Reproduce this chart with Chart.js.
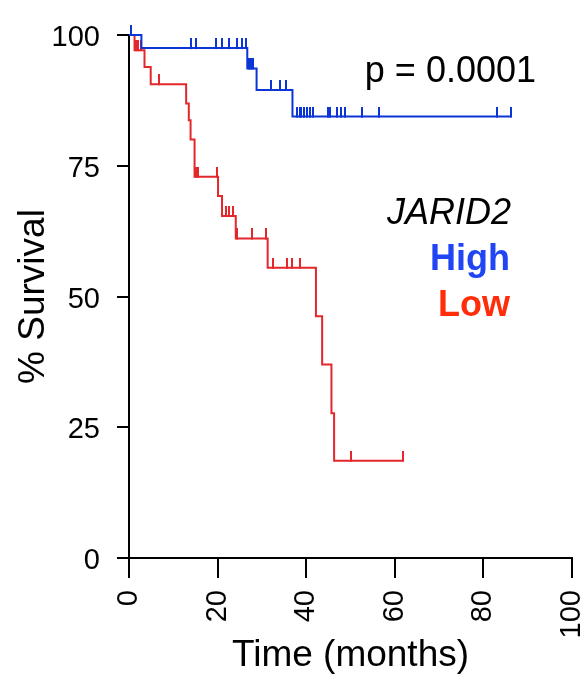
<!DOCTYPE html>
<html>
<head>
<meta charset="utf-8">
<script src="https://cdn.jsdelivr.net/npm/chart.js@4/dist/chart.umd.min.js"></script>
<style>
html,body{margin:0;padding:0;background:#fff;}
#wrap{position:relative;width:587px;height:678px;}
</style>
</head>
<body>
<div id="wrap"><canvas id="c" width="587" height="678"></canvas></div>
<script>
// ---- data ----
const highEventTimes = [0, 2.8, 26.7, 28.8, 36.9];
const highEventSurv  = [100, 97.5, 93.6, 89.5, 84.4];
const highCensorTimes = [0.5, 14.1, 15.2, 19.7, 20.9, 22.6, 24.3, 25.4, 26.4, 27.0, 27.5, 28.0,
  32.0, 34.0, 35.4, 38.0, 38.5, 38.9, 39.4, 40.1, 40.8, 41.6, 45.0, 45.4, 47.0, 47.8, 48.8,
  52.5, 56.5, 83.1, 86.2];
const lowEventTimes = [0, 1.25, 3.5, 4.9, 12.9, 13.5, 13.9, 14.8, 20.1, 21.0, 24.1, 31.3, 42.2, 43.6, 45.7, 46.3];
const lowEventSurv  = [100, 97.1, 93.9, 90.6, 86.9, 83.7, 80.0, 72.9, 69.2, 65.4, 61.1, 55.5, 46.2, 37.0, 27.7, 18.6];
const lowCensorTimes = [1.6, 2.1, 2.6, 6.7, 15.1, 15.6, 19.9, 22.0, 22.5, 23.5, 24.4, 27.8, 31.0,
  32.5, 35.7, 36.9, 38.6, 50.1, 61.9];
const xTicks = [0, 20, 40, 60, 80, 100];
const yTicks = [0, 25, 50, 75, 100];
const pValueText = 'p = 0.0001';
const geneName = 'JARID2';
const groupNames = ['High', 'Low'];

const BLUE = '#0b35d4', RED = '#e4272b';
const BLUE_TXT = '#1f45f4', RED_TXT = '#ff2d0a';
const FONT = '"Liberation Sans", Arial, Helvetica, sans-serif';

function survAt(times, surv, t) {
  let v = surv[0];
  for (let i = 0; i < times.length; i++) { if (times[i] <= t) v = surv[i]; }
  return v;
}
function curve(times, surv, cens) {
  const pts = times.map((t, i) => ({x: t, y: surv[i]}));
  const last = Math.max(...cens);
  if (last > times[times.length - 1]) pts.push({x: last, y: surv[surv.length - 1]});
  return pts;
}
function censors(times, surv, cens) {
  return cens.map(t => ({x: t, y: survAt(times, surv, t)}));
}
function tickImg(color) {
  const c = document.createElement('canvas');
  c.width = 2; c.height = 20;
  const g = c.getContext('2d');
  g.fillStyle = color;
  g.fillRect(0, 0, 2, 11);
  return c;
}

const annot = {
  id: 'annot',
  afterDraw(chart) {
    const ctx = chart.ctx;
    ctx.save();
    ctx.textAlign = 'right';
    ctx.textBaseline = 'alphabetic';
    ctx.fillStyle = '#000';
    ctx.font = '36px ' + FONT;
    ctx.fillText(pValueText, 536, 82);
    ctx.font = 'italic 36px ' + FONT;
    ctx.fillText(geneName, 511, 224);
    ctx.font = 'bold 36px ' + FONT;
    ctx.fillStyle = BLUE_TXT;
    ctx.fillText(groupNames[0], 510, 270);
    ctx.fillStyle = RED_TXT;
    ctx.fillText(groupNames[1], 510, 316);
    ctx.restore();
  }
};

new Chart(document.getElementById('c'), {
  type: 'scatter',
  data: {
    datasets: [
      { label: 'High', data: curve(highEventTimes, highEventSurv, highCensorTimes), showLine: true, stepped: true,
        borderColor: BLUE, borderWidth: 2, pointRadius: 0, clip: false },
      { label: 'High censored', data: censors(highEventTimes, highEventSurv, highCensorTimes), showLine: false,
        pointStyle: tickImg(BLUE), pointRadius: 5, clip: false },
      { label: 'Low', data: curve(lowEventTimes, lowEventSurv, lowCensorTimes), showLine: true, stepped: true,
        borderColor: RED, borderWidth: 2, pointRadius: 0, clip: false },
      { label: 'Low censored', data: censors(lowEventTimes, lowEventSurv, lowCensorTimes), showLine: false,
        pointStyle: tickImg(RED), pointRadius: 5, clip: false }
    ]
  },
  options: {
    responsive: false,
    animation: false,
    events: [],
    layout: { padding: { top: 35, right: 15, left: 0, bottom: 0 } },
    plugins: { legend: { display: false }, tooltip: { enabled: false } },
    scales: {
      x: {
        type: 'linear', min: 0, max: 100,
        afterBuildTicks: s => { s.ticks = xTicks.map(v => ({value: v})); },
        ticks: { color: '#000', font: { family: FONT, size: 29 }, minRotation: 90, maxRotation: 90, padding: 12 },
        grid: { display: true, drawOnChartArea: false, drawTicks: true, tickLength: 20, color: '#000', lineWidth: 2 },
        border: { display: true, color: '#000', width: 2 },
        title: { display: true, text: 'Time (months)', color: '#000', font: { family: FONT, size: 37 }, padding: { top: 0, bottom: 0 } },
        afterFit: s => { s.height = 120; s.paddingLeft = 0; s.paddingRight = 0; }
      },
      y: {
        type: 'linear', min: 0, max: 100,
        afterBuildTicks: s => { s.ticks = yTicks.map(v => ({value: v})); },
        ticks: { color: '#000', font: { family: FONT, size: 29 }, padding: 17, labelOffset: 3 },
        grid: { display: true, drawOnChartArea: false, drawTicks: true, tickLength: 12, color: '#000', lineWidth: 2 },
        border: { display: true, color: '#000', width: 2 },
        title: { display: true, text: '% Survival', color: '#000', font: { family: FONT, size: 37 }, padding: { top: 12, bottom: 12 } },
        afterFit: s => { s.width = 129; s.paddingTop = 0; s.paddingBottom = 0; }
      }
    }
  },
  plugins: [annot]
});
</script>
</body>
</html>
